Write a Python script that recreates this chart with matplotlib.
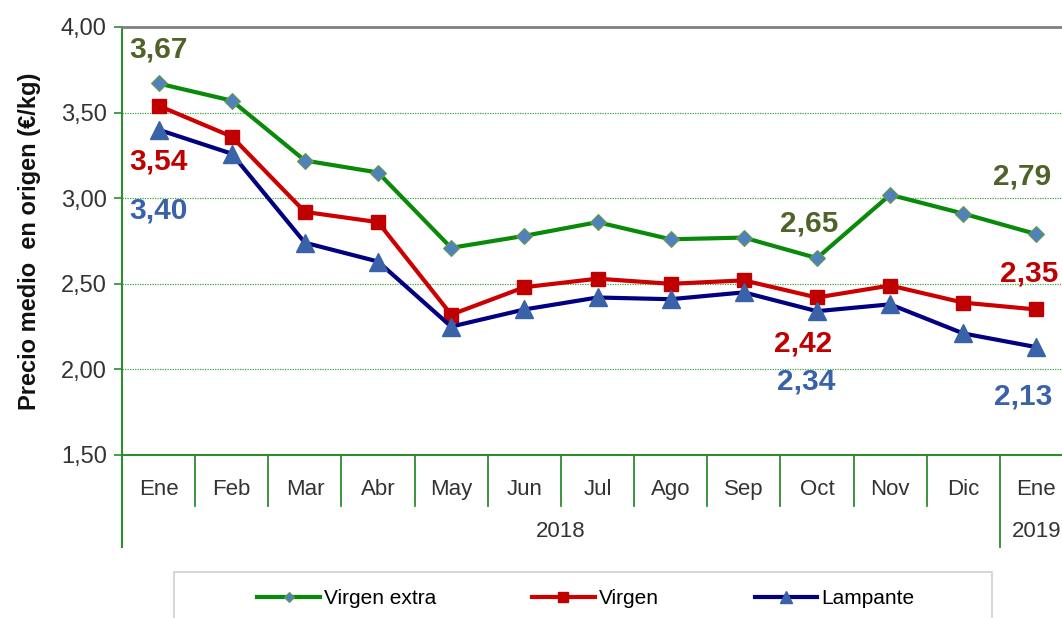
import matplotlib
matplotlib.use("Agg")
import matplotlib.pyplot as plt
import matplotlib.transforms as mtransforms
from matplotlib.patches import Rectangle

plt.rcParams['font.family'] = ['Liberation Sans', 'DejaVu Sans']

# data
meses = ["Ene", "Feb", "Mar", "Abr", "May", "Jun", "Jul", "Ago", "Sep", "Oct", "Nov", "Dic", "Ene"]
virgen_extra = [3.67, 3.57, 3.22, 3.15, 2.71, 2.78, 2.86, 2.76, 2.77, 2.65, 3.02, 2.91, 2.79]
virgen = [3.54, 3.36, 2.92, 2.86, 2.32, 2.48, 2.53, 2.50, 2.52, 2.42, 2.49, 2.39, 2.35]
lampante = [3.40, 3.26, 2.74, 2.63, 2.25, 2.35, 2.42, 2.41, 2.45, 2.34, 2.38, 2.21, 2.13]
anios = ["2018", "2019"]

W, H = 1062, 618
fig = plt.figure(figsize=(W / 100, H / 100), dpi=100)
# plot area runs a bit past the right edge, as in the source
ax = fig.add_axes([122 / W, 1 - 455 / H, 951 / W, 428 / H])

x = list(range(len(meses)))
c_ve, c_v, c_l = "#0a8a0a", "#cc0000", "#000080"
ax.plot(x, virgen_extra, color=c_ve, lw=3, marker="D", ms=8, mfc="#4f81bd",
        mec="#6a9a4a", mew=0.8, clip_on=False, zorder=5, label="Virgen extra")
ax.plot(x, virgen, color=c_v, lw=3, marker="s", ms=10, mfc="#c00000",
        mec="#c00000", clip_on=False, zorder=5, label="Virgen")
ax.plot(x, lampante, color=c_l, lw=3, marker="^", ms=13, mfc="#3a62a8",
        mec="#3a62a8", clip_on=False, zorder=5, label="Lampante")

ax.set_xlim(-0.5, len(meses) - 0.5)
ax.set_ylim(1.5, 4.0)
ax.set_yticks([1.5, 2.0, 2.5, 3.0, 3.5, 4.0])
ax.set_yticklabels([f"{v:.2f}".replace(".", ",") for v in ax.get_yticks()],
                   fontsize=17, color="#333333")
ax.yaxis.grid(True, color="#3fa03f", linestyle=(0, (1, 1)), lw=0.9)
ax.set_axisbelow(True)
ax.tick_params(axis="y", length=6, color="#2e8b2e", width=1.2, pad=5)
ax.set_xticks(x)
ax.set_xticklabels(meses, fontsize=16, color="#333333")
ax.tick_params(axis="x", length=0, pad=17)

for s in ["left", "bottom"]:
    ax.spines[s].set_color("#2e8b2e")
    ax.spines[s].set_linewidth(1.5)
ax.spines["top"].set_color("#808080")
ax.spines["top"].set_linewidth(2)
ax.spines["right"].set_visible(False)

ax.set_ylabel("Precio medio  en origen (€/kg)", fontsize=17, fontweight="bold",
              color="#111111", labelpad=14)

# category separators under the axis
tr = mtransforms.blended_transform_factory(ax.transData, ax.transAxes)
for i in range(1, len(meses)):
    low = -0.215 if i == 12 else -0.119
    ax.plot([i - 0.5, i - 0.5], [0, low], transform=tr, color="#2e8b2e",
            lw=1.3, clip_on=False)
ax.plot([-0.5, -0.5], [0, -0.215], transform=tr, color="#2e8b2e", lw=1.5, clip_on=False)
ax.text(5.5, -0.178, anios[0], transform=tr, ha="center", va="center",
        fontsize=16, color="#333333")
ax.text(12, -0.178, anios[1], transform=tr, ha="center", va="center",
        fontsize=16, color="#333333")

# value labels (index, series, colour, offset in px)
etiquetas = [
    (0, virgen_extra, "#4f6228", 0, 34),
    (0, virgen, "#c00000", 0, -56),
    (0, lampante, "#3a62a8", 0, -81),
    (9, virgen_extra, "#4f6228", -8, 35),
    (9, virgen, "#c00000", -14, -46),
    (9, lampante, "#3a62a8", -11, -70),
    (12, virgen_extra, "#4f6228", -14, 58),
    (12, virgen, "#c00000", -7, 36),
    (12, lampante, "#3a62a8", -13, -49),
]
for i, serie, col, dx, dy in etiquetas:
    ax.annotate(f"{serie[i]:.2f}".replace(".", ","), (i, serie[i]),
                xytext=(dx * 0.72, dy * 0.72), textcoords="offset points",
                ha="center", va="center", fontsize=21.5, fontweight="bold",
                color=col, annotation_clip=False, zorder=6)

# legend box, cut at the bottom edge
fig.patches.append(Rectangle((174 / W, -0.05), 818 / W, 0.05 + 1 - 572 / H,
                             transform=fig.transFigure, fill=False,
                             ec="#d0d0d0", lw=1.2))
fig.legend(loc="center", bbox_to_anchor=(586 / W, 1 - 599 / H), ncol=3,
           frameon=False, handlelength=3.0, handletextpad=0.2, markerscale=0.7,
           columnspacing=4.6, prop={"family": ["Liberation Sans"], "size": 15})

fig.savefig("out.png", dpi=100)
